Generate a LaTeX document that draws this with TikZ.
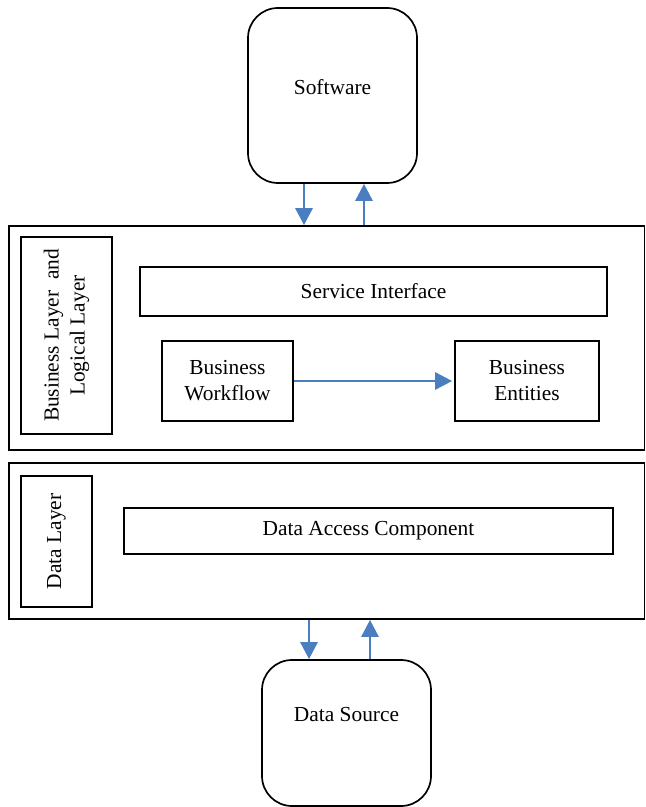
\documentclass[tikz,border=0pt]{standalone}
\usepackage{fontspec}
\setmainfont{Liberation Serif}
\usetikzlibrary{arrows.meta}
\tikzset{
  box/.style={draw, line width=0.85pt, inner sep=0pt, align=center, font=\fontsize{10.7}{13}\selectfont},
  roundbox/.style={box, rounded corners=15pt},
  flow/.style={draw={rgb,255:red,74;green,126;blue,193}, line width=1.4pt, -{Triangle[length=8.5pt,width=8.5pt]}}
}
\begin{document}
\begin{tikzpicture}[x=0.5pt,y=-0.5pt]
  \useasboundingbox (0,0) rectangle (645,807);
  % Software
  \node[roundbox, minimum width=84.5pt, minimum height=87.5pt, text depth=8.5pt] (Software) at (332.5,95.5) {Software};

  % Business Layer and Logical Layer
  \node[box, minimum width=635.5pt/2, minimum height=112pt] (Business) at (326.75,338) {};
  \node[box, rotate=90, minimum width=98.5pt, minimum height=45.5pt] (BusinessLabel) at (66.5,335.5) {Business Layer~~and\\Logical Layer};
  \node[box, minimum width=233.5pt, minimum height=24.5pt] (Service) at (373.5,291.5) {Service Interface};
  \node[box, minimum width=65.5pt, minimum height=40pt] (Workflow) at (227.5,381) {Business\\Workflow};
  \node[box, minimum width=72pt, minimum height=40pt] (Entities) at (527,381) {Business\\Entities};
  \draw[flow] (Workflow.east) to ([xshift=-1pt]Entities.west);

  % Data Layer
  \node[box, minimum width=635.5pt/2, minimum height=78pt] (Data) at (326.75,541) {};
  \node[box, rotate=90, minimum width=65.5pt, minimum height=35.5pt] (DataLabel) at (56.5,541.5) {Data Layer};
  \node[box, minimum width=244.5pt, minimum height=23pt] (Access) at (368.5,531) {Data Access Component};

  % Data Source
  \node[roundbox, minimum width=84.5pt, minimum height=73pt, text depth=19pt] (Source) at (346.5,733) {Data Source};

  \draw[flow] ([xshift=-14.25pt]Software.south) to ([xshift=-14.25pt]Software.south |- Business.north);
  \draw[flow] ([xshift=15.75pt]Software.south |- Business.north) to ([xshift=15.75pt]Software.south);
  \draw[flow] ([xshift=-18.75pt]Source.north |- Data.south) to ([xshift=-18.75pt]Source.north);
  \draw[flow] ([xshift=11.75pt]Source.north) to ([xshift=11.75pt]Source.north |- Data.south);
\end{tikzpicture}
\end{document}
